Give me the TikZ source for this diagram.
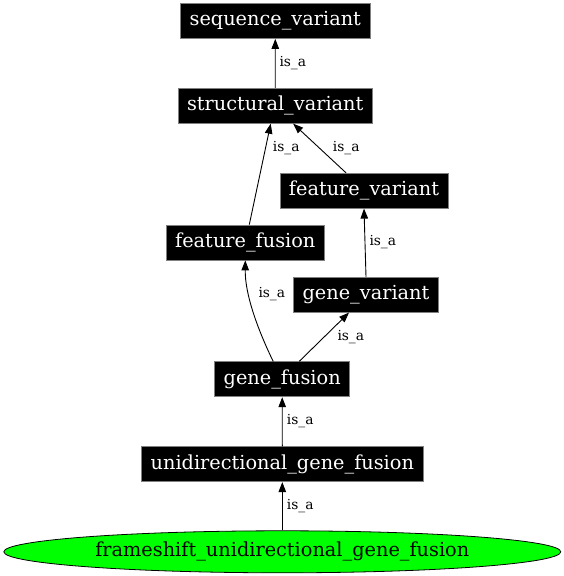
\documentclass[tikz,border=0pt]{standalone}
\usepackage{fontspec}
\setmainfont{DejaVu Serif}
\usetikzlibrary{arrows.meta,shapes.geometric}
\definecolor{nodegreen}{RGB}{0,255,0}
\tikzset{
  termbox/.style={rectangle, fill=black, draw=gray, line width=0.8pt, text=white,
    font=\fontsize{19.3}{22}\selectfont, inner xsep=9pt, inner ysep=0pt,
    minimum height=35pt},
  rootell/.style={ellipse, fill=nodegreen, draw=black, line width=0.8pt,
    font=\fontsize{19.3}{22}\selectfont, minimum width=557pt, minimum height=42pt, inner sep=0pt},
  isa/.style={draw=black, line width=0.9pt, -{Triangle[length=10pt,width=7.5pt]}},
  elabel/.style={anchor=west, font=\fontsize{13.8}{16}\selectfont, inner sep=0pt}
}
\begin{document}
\begin{tikzpicture}[x=1pt,y=-1pt]
\useasboundingbox (0,0) rectangle (564,576);
\node[termbox] (seq) at (275.3,21) {sequence\_variant};
\node[termbox] (sv) at (275.2,105.8) {structural\_variant};
\node[termbox] (fv) at (364,190.7) {feature\_variant};
\node[termbox] (ff) at (245.3,242.5) {feature\_fusion};
\node[termbox] (gv) at (366,294.7) {gene\_variant};
\node[termbox] (gf) at (282.2,379.3) {gene\_fusion};
\node[termbox] (ugf) at (282.3,464.2) {unidirectional\_gene\_fusion};
\node[rootell] (fugf) at (282.3,551.8) {frameshift\_unidirectional\_gene\_fusion};

\draw[isa] (sv.north) -- (seq.south);
\draw[isa] ([xshift=4pt]ff.north) -- ([xshift=-4.5pt]sv.south);
\draw[isa] ([xshift=-18pt]fv.north) -- ([xshift=18pt]sv.south);
\draw[isa] (gv.north) -- (fv.south);
\draw[isa] ([xshift=-9pt]gf.north) .. controls (258,330) and (245,295) .. (ff.south);
\draw[isa] ([xshift=17pt]gf.north) -- ([xshift=-17pt]gv.south);
\draw[isa] (ugf.north) -- (gf.south);
\draw[isa] (fugf.north) -- (ugf.south);

\node[elabel] (l1) at (279.3,62.7) {is\_a};
\node[elabel] (l2) at (272.7,147.7) {is\_a};
\node[elabel] (l3) at (332.7,147.7) {is\_a};
\node[elabel] (l4) at (369.3,241.7) {is\_a};
\node[elabel] (l5) at (258.3,294) {is\_a};
\node[elabel] (l6) at (337.3,336.7) {is\_a};
\node[elabel] (l7) at (286.7,421) {is\_a};
\node[elabel] (l8) at (286.7,505.7) {is\_a};
\end{tikzpicture}
\end{document}
